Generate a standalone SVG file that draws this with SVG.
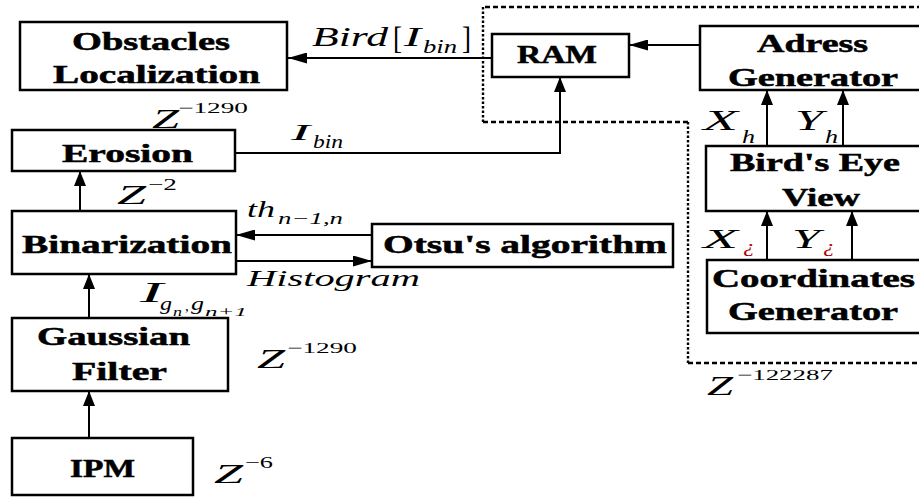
<svg xmlns="http://www.w3.org/2000/svg" width="919" height="497" viewBox="0 0 919 497">
<defs>
<style>
.box{fill:#fff;stroke:#000;stroke-width:2.5}
.lbl{font-family:"Liberation Serif","DejaVu Serif",serif;font-weight:bold;font-size:25px;fill:#000;stroke:#000;stroke-width:0.5}
.m{font-family:"Liberation Serif","DejaVu Serif",serif;font-style:italic;fill:#000}
.n{font-family:"Liberation Serif","DejaVu Serif",serif;fill:#000}
.c{fill:none;stroke:#000;stroke-width:2}
.dh{fill:none;stroke:#000;stroke-width:2.4;stroke-dasharray:5 3}
.dv{fill:none;stroke:#000;stroke-width:2.4;stroke-dasharray:2.5 2}
.red{fill:#b00000}
</style>
<marker id="ah" markerUnits="userSpaceOnUse" markerWidth="19" markerHeight="11" refX="19" refY="5.5" orient="auto"><path d="M0,0 L19,5.5 L0,11 z" fill="#000"/></marker>
<marker id="av" markerUnits="userSpaceOnUse" markerWidth="15" markerHeight="12" refX="15" refY="6" orient="auto"><path d="M0,0 L15,6 L0,12 z" fill="#000"/></marker>
</defs>
<rect width="919" height="497" fill="#fff"/>

<g id="boundary">
<path class="dh" d="M930,7 H483"/>
<path class="dv" d="M483,7 V122"/>
<path class="dh" d="M483,122 H688"/>
<path class="dv" d="M688,122 V363"/>
<path class="dh" d="M688,363 H930"/>
</g>

<g id="connectors">
<path class="c" d="M492,58 H288" marker-end="url(#ah)"/>
<path class="c" d="M700,45 H629" marker-end="url(#ah)"/>
<path class="c" d="M235,153 H560 V77" marker-end="url(#av)"/>
<path class="c" d="M80,211 V171" marker-end="url(#av)"/>
<path class="c" d="M372,235 H236" marker-end="url(#ah)"/>
<path class="c" d="M236,261 H372" marker-end="url(#ah)"/>
<path class="c" d="M89,318 V274" marker-end="url(#av)"/>
<path class="c" d="M89,438 V391" marker-end="url(#av)"/>
<path class="c" d="M767,146 V90" marker-end="url(#av)"/>
<path class="c" d="M843,146 V90" marker-end="url(#av)"/>
<path class="c" d="M767,260 V211" marker-end="url(#av)"/>
<path class="c" d="M852,260 V211" marker-end="url(#av)"/>
</g>

<g id="obstacles">
<rect class="box" x="20" y="22" width="267" height="68"/>
<text class="lbl" x="72" y="50" textLength="158" lengthAdjust="spacingAndGlyphs">Obstacles</text>
<text class="lbl" x="53" y="83" textLength="207" lengthAdjust="spacingAndGlyphs">Localization</text>
</g>
<g id="erosion">
<rect class="box" x="12" y="130" width="223" height="41"/>
<text class="lbl" x="62" y="162" textLength="131" lengthAdjust="spacingAndGlyphs">Erosion</text>
</g>
<g id="binarization">
<rect class="box" x="12" y="211" width="224" height="63"/>
<text class="lbl" x="22" y="253" textLength="210" lengthAdjust="spacingAndGlyphs">Binarization</text>
</g>
<g id="gaussian">
<rect class="box" x="12" y="318" width="216" height="73"/>
<text class="lbl" x="37" y="345" textLength="153" lengthAdjust="spacingAndGlyphs">Gaussian</text>
<text class="lbl" x="72" y="380" textLength="95" lengthAdjust="spacingAndGlyphs">Filter</text>
</g>
<g id="ipm">
<rect class="box" x="12" y="438" width="181" height="57"/>
<text class="lbl" x="70" y="477" textLength="65" lengthAdjust="spacingAndGlyphs">IPM</text>
</g>
<g id="otsu">
<rect class="box" x="372" y="224" width="301" height="43"/>
<text class="lbl" x="383" y="253" textLength="284" lengthAdjust="spacingAndGlyphs">Otsu's algorithm</text>
</g>
<g id="ram">
<rect class="box" x="492" y="34" width="137" height="43"/>
<text class="lbl" x="517" y="63" textLength="80" lengthAdjust="spacingAndGlyphs">RAM</text>
</g>
<g id="adress">
<rect class="box" x="700" y="26" width="230" height="64"/>
<text class="lbl" x="757" y="52" textLength="111" lengthAdjust="spacingAndGlyphs">Adress</text>
<text class="lbl" x="728" y="86" textLength="170" lengthAdjust="spacingAndGlyphs">Generator</text>
</g>
<g id="birdseye">
<rect class="box" x="706" y="146" width="230" height="65"/>
<text class="lbl" x="730" y="171" textLength="170" lengthAdjust="spacingAndGlyphs">Bird's Eye</text>
<text class="lbl" x="782" y="206" textLength="78" lengthAdjust="spacingAndGlyphs">View</text>
</g>
<g id="coordinates">
<rect class="box" x="707" y="260" width="230" height="73"/>
<text class="lbl" x="712" y="287" textLength="203" lengthAdjust="spacingAndGlyphs">Coordinates</text>
<text class="lbl" x="728" y="320" textLength="170" lengthAdjust="spacingAndGlyphs">Generator</text>
</g>

<g id="labels">
<text class="m" x="312" y="46" font-size="27" textLength="76" lengthAdjust="spacingAndGlyphs">Bird</text>
<text class="n" x="393" y="49" font-size="32" textLength="9" lengthAdjust="spacingAndGlyphs">[</text>
<text class="m" x="404" y="46" font-size="27" textLength="17" lengthAdjust="spacingAndGlyphs">I</text>
<text class="m" x="423" y="53" font-size="19" textLength="34" lengthAdjust="spacingAndGlyphs">bin</text>
<text class="n" x="462" y="49" font-size="32" textLength="9" lengthAdjust="spacingAndGlyphs">]</text>
<text class="m" x="291" y="140" font-size="24" textLength="19" lengthAdjust="spacingAndGlyphs">I</text>
<text class="m" x="313" y="148" font-size="19" textLength="30" lengthAdjust="spacingAndGlyphs">bin</text>
<text class="m" x="152" y="128" font-size="28" textLength="27" lengthAdjust="spacingAndGlyphs">Z</text>
<text class="n" x="178" y="113" font-size="15" textLength="70" lengthAdjust="spacingAndGlyphs">−1290</text>
<text class="m" x="117" y="204" font-size="28" textLength="29" lengthAdjust="spacingAndGlyphs">Z</text>
<text class="n" x="148" y="190" font-size="17" textLength="29" lengthAdjust="spacingAndGlyphs">−2</text>
<text class="m" x="247" y="217" font-size="23" textLength="28" lengthAdjust="spacingAndGlyphs">th</text>
<text class="m" x="278" y="224" font-size="17" textLength="65" lengthAdjust="spacingAndGlyphs">n−1,n</text>
<text class="m" x="247" y="286" font-size="24" textLength="173" lengthAdjust="spacingAndGlyphs">Histogram</text>
<text class="m" x="140" y="302" font-size="29" textLength="23" lengthAdjust="spacingAndGlyphs">I</text>
<text class="m" x="160" y="310" font-size="18" textLength="12" lengthAdjust="spacingAndGlyphs">g</text>
<text class="m" x="173" y="316" font-size="12" textLength="9" lengthAdjust="spacingAndGlyphs">n</text>
<text class="n" x="185" y="311" font-size="15">,</text>
<text class="m" x="191" y="310" font-size="18" textLength="13" lengthAdjust="spacingAndGlyphs">g</text>
<text class="m" x="205" y="316" font-size="12" textLength="42" lengthAdjust="spacingAndGlyphs">n+1</text>
<text class="m" x="257" y="368" font-size="28" textLength="28" lengthAdjust="spacingAndGlyphs">Z</text>
<text class="n" x="287" y="353" font-size="15" textLength="70" lengthAdjust="spacingAndGlyphs">−1290</text>
<text class="m" x="214" y="483" font-size="28" textLength="29" lengthAdjust="spacingAndGlyphs">Z</text>
<text class="n" x="245" y="468" font-size="17" textLength="28" lengthAdjust="spacingAndGlyphs">−6</text>
<text class="m" x="707" y="395" font-size="28" textLength="26" lengthAdjust="spacingAndGlyphs">Z</text>
<text class="n" x="737" y="380" font-size="15" textLength="96" lengthAdjust="spacingAndGlyphs">−122287</text>
<text class="m" x="703" y="130" font-size="29" textLength="35" lengthAdjust="spacingAndGlyphs">X</text>
<text class="m" x="742" y="143" font-size="19" textLength="13" lengthAdjust="spacingAndGlyphs">h</text>
<text class="m" x="795" y="130" font-size="29" textLength="28" lengthAdjust="spacingAndGlyphs">Y</text>
<text class="m" x="825" y="143" font-size="19" textLength="13" lengthAdjust="spacingAndGlyphs">h</text>
<text class="m" x="703" y="248" font-size="27" textLength="35" lengthAdjust="spacingAndGlyphs">X</text>
<text class="m red" x="743" y="252" font-size="17" textLength="12" lengthAdjust="spacingAndGlyphs">¿</text>
<text class="m" x="792" y="248" font-size="27" textLength="28" lengthAdjust="spacingAndGlyphs">Y</text>
<text class="m red" x="823" y="252" font-size="17" textLength="12" lengthAdjust="spacingAndGlyphs">¿</text>
</g>
</svg>
